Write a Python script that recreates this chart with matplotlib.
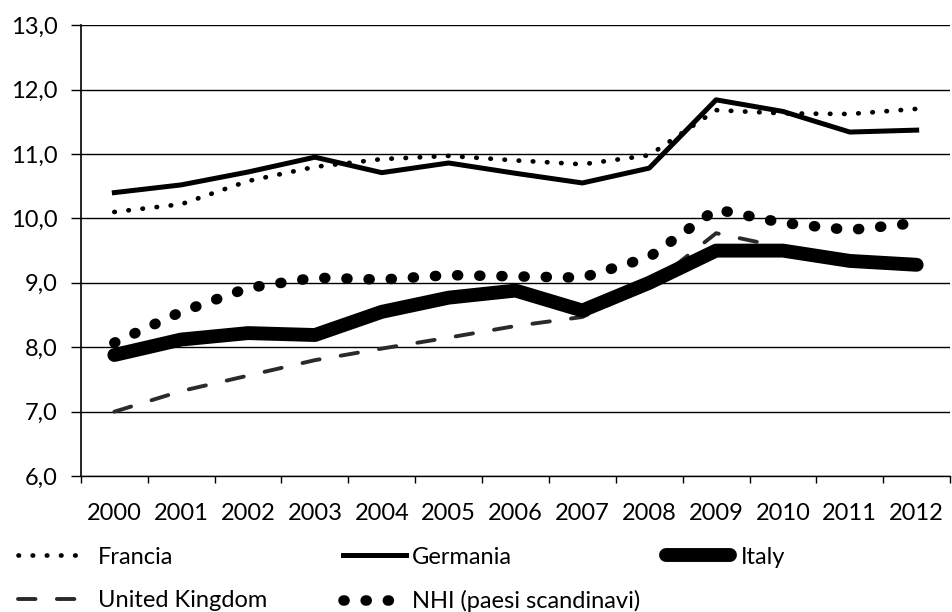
import matplotlib
matplotlib.use("Agg")
import matplotlib.pyplot as plt
import numpy as np

plt.rcParams["font.family"] = ["Lato", "DejaVu Sans"]

# Data
years = ["2000", "2001", "2002", "2003", "2004", "2005", "2006",
         "2007", "2008", "2009", "2010", "2011", "2012"]
francia = [10.1, 10.22, 10.58, 10.8, 10.92, 10.97, 10.9, 10.84, 10.98, 11.68, 11.63, 11.62, 11.7]
germania = [10.4, 10.52, 10.72, 10.95, 10.71, 10.86, 10.7, 10.55, 10.78, 11.84, 11.66, 11.34, 11.37]
italy = [7.88, 8.12, 8.22, 8.19, 8.55, 8.77, 8.88, 8.57, 9.0, 9.5, 9.5, 9.34, 9.28]
uk = [7.0, 7.32, 7.56, 7.8, 7.98, 8.15, 8.33, 8.47, 8.95, 9.77, 9.55, 9.4, 9.35]
nhi = [8.07, 8.55, 8.92, 9.08, 9.05, 9.12, 9.1, 9.08, 9.4, 10.14, 9.93, 9.82, 9.93]

x = np.arange(len(years))

fig = plt.figure(figsize=(9.52, 6.12), dpi=100)
ax = fig.add_axes([0.085, 0.222, 0.913, 0.737])

# Series lines
l_uk, = ax.plot(x, uk, color="#2a2a2a", lw=2.8, linestyle=(0, (4.5, 5.5)),
                dash_capstyle="round", label="United Kingdom")
l_it, = ax.plot(x, italy, color="black", lw=10, solid_capstyle="round",
                solid_joinstyle="round", label="Italy")
l_ge, = ax.plot(x, germania, color="black", lw=3.6, label="Germania")
l_fr, = ax.plot(x, francia, color="black", lw=3.4, linestyle=(0, (0.1, 2.9)),
                dash_capstyle="round", label="Francia")
l_nh, = ax.plot(x, nhi, color="black", lw=7.6, linestyle=(0, (0.1, 2.0)),
                dash_capstyle="round", label="NHI (paesi scandinavi)")

# Axes styling
ax.set_xlim(-0.5, len(years) - 0.5)
ax.set_ylim(6, 13)
ax.set_yticks(np.arange(6, 14, 1))
ax.set_yticklabels([f"{v:.1f}".replace(".", ",") for v in np.arange(6, 14, 1)])
ax.set_xticks(x)
ax.set_xticklabels(years)
ax.set_xticks(np.arange(-0.5, len(years), 1), minor=True)
ax.tick_params(axis="x", which="major", length=0, pad=19, labelsize=17)
ax.tick_params(axis="x", which="minor", length=5, width=1, direction="out")
ax.tick_params(axis="y", length=7, width=1, pad=10, labelsize=17)
ax.grid(axis="y", color="black", lw=1.0)
ax.set_axisbelow(True)
for s in ["top", "right"]:
    ax.spines[s].set_visible(False)
ax.spines["left"].set_linewidth(1.2)
ax.spines["bottom"].set_linewidth(1.0)

# Legend in three columns placed under the chart
common = dict(loc="upper left", frameon=False, fontsize=17, borderpad=0,
              borderaxespad=0, labelspacing=0.95, handlelength=2.7)
leg1 = fig.legend([l_fr, l_uk], ["Francia", "United Kingdom"],
                  bbox_to_anchor=(0.019, 0.107), handletextpad=0.7, **common)
leg2 = fig.legend([l_ge, l_nh], ["Germania", "NHI (paesi scandinavi)"],
                  bbox_to_anchor=(0.360, 0.107), handletextpad=0.25, **common)
leg3 = fig.legend([l_it], ["Italy"],
                  bbox_to_anchor=(0.700, 0.107), handletextpad=0.45, **common)

fig.savefig("out.png", dpi=100)
